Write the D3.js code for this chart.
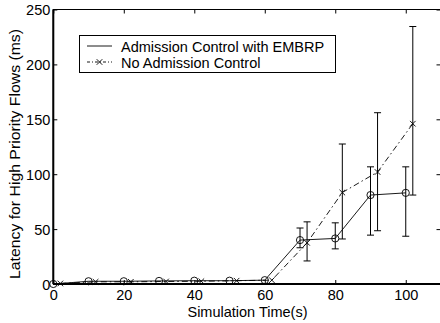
<!DOCTYPE html>
<html><head><meta charset="utf-8">
<script src="https://cdn.jsdelivr.net/npm/d3@7"></script>
<style>body{margin:0;background:#fff}svg{display:block;font-family:"Liberation Sans",Arial,sans-serif}</style>
</head><body>
<script>
const seriesNames = ["Admission Control with EMBRP", "No Admission Control"];
const acX = [0,10,20,30,40,50,60,70,80,90,100];
const acY = [0,2.5,2.5,2.8,3,3,3.5,40,41.5,81,83];
const acLo = [null,null,null,null,null,null,null,33,32,44.5,43.5];
const acHi = [null,null,null,null,null,null,null,51,55.7,106.7,106.7];
const naX = [2,12,22,32,42,52,62,72,82,92,102];
const naY = [0.5,2,2,2.3,2.5,3,3.5,37.5,83.3,102,146];
const naLo = [null,null,null,null,null,null,null,21,41,48.5,81];
const naHi = [null,null,null,null,null,null,null,56.6,127.5,156,234.5];
const xTicks = [0,20,40,60,80,100];
const yTicks = [0,50,100,150,200,250];

const W=440,H=323;
const m={l:53.3,r:441,t:9.5,b:284};
const svg=d3.select("body").append("svg").attr("width",W).attr("height",H);
const x=d3.scaleLinear().domain([0,110]).range([m.l,m.r]);
const y=d3.scaleLinear().domain([0,250]).range([m.b,m.t]);

svg.append("rect").attr("x",m.l).attr("y",m.t).attr("width",m.r-m.l).attr("height",m.b-m.t)
  .attr("fill","none").attr("stroke","#000").attr("stroke-width",1);

const fs=14.5;
const gx=svg.append("g").attr("transform",`translate(0,${m.b})`)
  .call(d3.axisBottom(x).tickValues(xTicks).tickSize(-4).tickPadding(6).tickFormat(d3.format("d")));
const gy=svg.append("g").attr("transform",`translate(${m.l},0)`)
  .call(d3.axisLeft(y).tickValues(yTicks).tickSize(-4).tickPadding(3).tickFormat(d3.format("d")));
const gt=svg.append("g").attr("transform",`translate(0,${m.t})`)
  .call(d3.axisTop(x).tickValues(xTicks).tickSize(-4).tickFormat(""));
const gr=svg.append("g").attr("transform",`translate(${m.r-0.5},0)`)
  .call(d3.axisRight(y).tickValues(yTicks).tickSize(-4).tickFormat(""));
[gx,gy,gt,gr].forEach(g=>{g.selectAll(".domain").remove();g.selectAll("line").attr("stroke","#000");
  g.selectAll("text").attr("font-size",fs).attr("fill","#000").attr("font-family","Liberation Sans, Arial, sans-serif");});
gx.selectAll("text").attr("dy",null).attr("y",16);
gy.selectAll("text").attr("dy","0.36em");
svg.append("line").attr("x1",m.l).attr("x2",m.l).attr("y1",m.t).attr("y2",m.b).attr("stroke","#000").attr("stroke-width",2);
svg.append("line").attr("x1",m.l).attr("x2",m.r).attr("y1",m.b).attr("y2",m.b).attr("stroke","#000").attr("stroke-width",2);

svg.append("text").attr("x",247.5).attr("y",316.5).attr("text-anchor","middle")
  .attr("font-size",fs).text("Simulation Time(s)");
svg.append("text").attr("transform",`translate(20,154) rotate(-90)`).attr("text-anchor","middle")
  .attr("font-size",fs).attr("textLength",250).attr("lengthAdjust","spacingAndGlyphs")
  .text("Latency for High Priority Flows (ms)");

function drawSeries(X,Y,Lo,Hi,dash,marker){
  const pts=X.map((d,i)=>({x:d,y:Y[i],lo:Lo[i],hi:Hi[i]}));
  const line=d3.line().x(d=>x(d.x)).y(d=>y(d.y));
  svg.append("path").datum(pts).attr("d",line).attr("fill","none").attr("stroke","#000")
    .attr("stroke-width",0.9).attr("stroke-dasharray",dash);
  const eb=pts.filter(d=>d.lo!=null);
  const g=svg.append("g").attr("stroke","#000").attr("stroke-width",1);
  eb.forEach(d=>{
    g.append("line").attr("x1",x(d.x)).attr("x2",x(d.x)).attr("y1",y(d.lo)).attr("y2",y(d.hi));
    g.append("line").attr("x1",x(d.x)-3.5).attr("x2",x(d.x)+3.5).attr("y1",y(d.lo)).attr("y2",y(d.lo));
    g.append("line").attr("x1",x(d.x)-3.5).attr("x2",x(d.x)+3.5).attr("y1",y(d.hi)).attr("y2",y(d.hi));
  });
  pts.forEach(d=>marker(x(d.x),y(d.y)));
}
const circ=(cx,cy)=>svg.append("circle").attr("cx",cx).attr("cy",cy).attr("r",3.6)
  .attr("fill","none").attr("stroke","#000").attr("stroke-width",0.9);
const cross=(cx,cy)=>{const s=2.8;svg.append("path")
  .attr("d",`M${cx-s},${cy-s}L${cx+s},${cy+s}M${cx-s},${cy+s}L${cx+s},${cy-s}`)
  .attr("stroke","#000").attr("stroke-width",0.9);};
drawSeries(acX,acY,acLo,acHi,null,circ);
drawSeries(naX,naY,naLo,naHi,"6,3,1.5,3",cross);

const lg=svg.append("g");
lg.append("rect").attr("x",79.5).attr("y",35.5).attr("width",256).attr("height",37)
  .attr("fill","#fff").attr("stroke","#000").attr("stroke-width",1);
[0,1].forEach(i=>{
  const ly=46+i*16;
  lg.append("line").attr("x1",87).attr("x2",112).attr("y1",ly).attr("y2",ly).attr("stroke","#000")
    .attr("stroke-width",0.9).attr("stroke-dasharray",i?"3,2,1,2":null);
  if(i) cross(99.5,ly);
  lg.append("text").attr("x",121).attr("y",ly+5.5).attr("font-size",fs).text(seriesNames[i]);
});
</script>
</body></html>
